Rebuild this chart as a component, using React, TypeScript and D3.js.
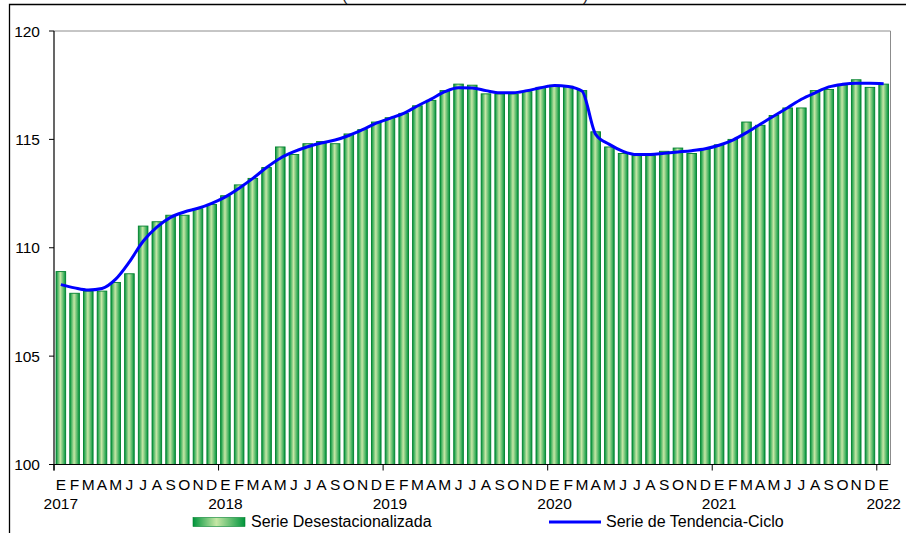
import React from "react";
import * as d3 from "d3";

// valores (ene 2017 - ene 2022)
const years = ["2017", "2018", "2019", "2020", "2021", "2022"];
const monthLetters = ["E", "F", "M", "A", "M", "J", "J", "A", "S", "O", "N", "D"];

const desest = [
  108.9, 107.9, 108.0, 108.0, 108.4, 108.8, 111.0, 111.2, 111.5, 111.5, 111.8, 112.0,
  112.4, 112.9, 113.2, 113.7, 114.65, 114.3, 114.8, 114.9, 114.8, 115.25, 115.45, 115.8,
  116.0, 116.2, 116.55, 116.8, 117.25, 117.55, 117.5, 117.1, 117.1, 117.1, 117.2, 117.4,
  117.5, 117.45, 117.25, 115.35, 114.65, 114.35, 114.25, 114.25, 114.45, 114.6, 114.35, 114.55,
  114.75, 115.0, 115.8, 115.65, 116.1, 116.45, 116.45, 117.25, 117.3, 117.5, 117.75, 117.4,
  117.55,
];

const tendencia = [
  108.3, 108.15, 108.05, 108.12, 108.55, 109.35, 110.3, 110.95, 111.4, 111.65, 111.82, 112.05,
  112.35, 112.75, 113.2, 113.7, 114.13, 114.43, 114.66, 114.83, 114.97, 115.18, 115.45, 115.75,
  115.97, 116.2, 116.54, 116.86, 117.2, 117.38, 117.37, 117.25, 117.15, 117.15, 117.25, 117.38,
  117.49, 117.44, 117.23, 115.23, 114.77, 114.45, 114.3, 114.3, 114.36, 114.42, 114.48, 114.57,
  114.73, 114.97, 115.31, 115.7, 116.08, 116.46, 116.85, 117.15, 117.42, 117.54, 117.59, 117.59,
  117.57,
];

const yTicks = [100, 105, 110, 115, 120];

const W = 906;
const H = 533;
const left = 54;
const right = 890.5;
const top = 31;
const bottom = 464.5;
const font = "'Liberation Sans', Arial, sans-serif";

export default function App() {
  const idx = desest.map((_, i) => i);
  const x = d3.scaleBand<number>().domain(idx).range([left, right]).paddingInner(0.3).paddingOuter(0.15);
  const y = d3.scaleLinear().domain([100, 120]).range([bottom, top]);
  const step = x.step();
  const off = (step - x.bandwidth()) / 2;
  const bandStart = (i: number) => (x(i) as number) - off;

  const line = d3
    .line<number>()
    .x((_, i) => (x(i) as number) + x.bandwidth() / 2)
    .y((d) => y(d))
    .curve(d3.curveMonotoneX);

  return (
    <svg width={W} height={H} style={{ position: "absolute", left: 0, top: 0, display: "block" }} fontFamily={font}>
      <defs>
        <linearGradient id="barGrad" x1="0" x2="1" y1="0" y2="0">
          <stop offset="0" stopColor="#00953c" />
          <stop offset="0.45" stopColor="#c6e7a6" />
          <stop offset="1" stopColor="#00953c" />
        </linearGradient>
      </defs>
      <rect width={W} height={H} fill="#fff" />

      {/* titulo cortado arriba */}
      <text x={342} y={1} fontSize={16} fill="#222">(</text>
      <text x={583} y={1} fontSize={16} fill="#222">)</text>

      {/* marco exterior */}
      <path d={`M9.5,${H + 2}V4.5H${W + 2}`} fill="none" stroke="#000" strokeWidth={1.3} />

      {/* borde area de trazado */}
      <path d={`M${left},${top}H${right}V${bottom}`} fill="none" stroke="#8c8c8c" strokeWidth={1} />

      {desest.map((v, i) => (
        <rect
          key={i}
          x={x(i)}
          y={y(v)}
          width={x.bandwidth()}
          height={y(100) - y(v)}
          fill="url(#barGrad)"
          stroke="#00802c"
          strokeWidth={0.9}
        />
      ))}

      <path d={line(tendencia) || ""} fill="none" stroke="#0000ff" strokeWidth={3} strokeLinejoin="round" />

      {/* eje y */}
      <line x1={left} x2={left} y1={top} y2={bottom + 6} stroke="#000" strokeWidth={1.2} />
      {yTicks.map((t) => (
        <g key={t}>
          <line x1={left - 5} x2={left} y1={y(t)} y2={y(t)} stroke="#000" strokeWidth={1} />
          <text x={40} y={y(t)} dy="0.36em" textAnchor="end" fontSize={15.5} fill="#000">
            {t}
          </text>
        </g>
      ))}

      {/* eje x */}
      <line x1={left} x2={right} y1={bottom} y2={bottom} stroke="#000" strokeWidth={1.2} />
      {years.map((yr, k) => (
        <g key={yr}>
          <line x1={bandStart(k * 12)} x2={bandStart(k * 12)} y1={bottom} y2={bottom + 6} stroke="#000" strokeWidth={1} />
          <text x={bandStart(k * 12) + step / 2} y={508.5} textAnchor="middle" fontSize={15.5} fill="#000">
            {yr}
          </text>
        </g>
      ))}
      {idx.map((i) => (
        <text key={i} x={bandStart(i) + step / 2} y={490} textAnchor="middle" fontSize={15.5} fill="#000">
          {monthLetters[i % 12]}
        </text>
      ))}

      {/* leyenda */}
      <rect x={193} y={517.5} width={52} height={9} fill="url(#barGrad)" stroke="#00802c" strokeWidth={0.6} />
      <text x={251} y={527} fontSize={16} fill="#000">Serie Desestacionalizada</text>
      <line x1={549} x2={601} y1={522} y2={522} stroke="#0000ff" strokeWidth={3} />
      <text x={606} y={527} fontSize={16} fill="#000">Serie de Tendencia-Ciclo</text>
    </svg>
  );
}
